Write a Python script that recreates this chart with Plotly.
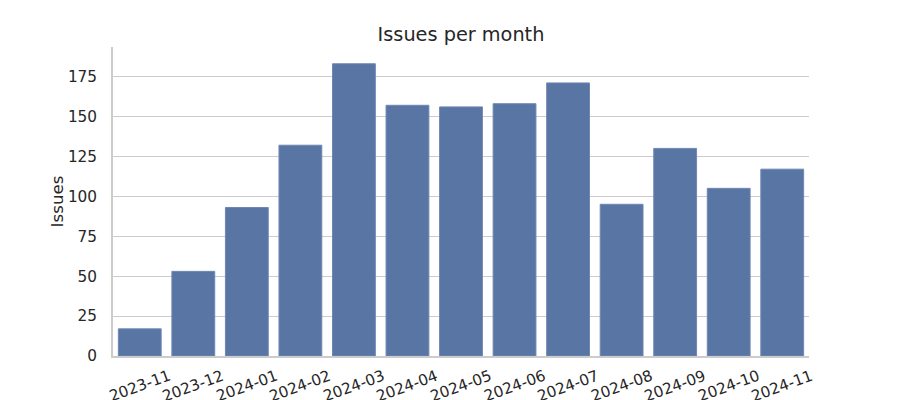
import plotly.graph_objects as go

months = ["2023-11", "2023-12", "2024-01", "2024-02", "2024-03", "2024-04", "2024-05",
          "2024-06", "2024-07", "2024-08", "2024-09", "2024-10", "2024-11"]
issues = [17, 53, 93, 132, 183, 157, 156, 158, 171, 95, 130, 105, 117]
y_ticks = [0, 25, 50, 75, 100, 125, 150, 175]

FONT = "DejaVu Sans"
TXT = "#262626"
TICK_SIZE = 15.3

fig = go.Figure(go.Bar(
    x=months, y=issues,
    marker=dict(color="#5875a4", line=dict(color="#6f88b3", width=1)),
))

# rotated category labels, centred under each bar (matplotlib style)
for m in months:
    fig.add_annotation(
        x=m, y=0, xref="x", yref="y", text=m, showarrow=False,
        textangle=-20, xanchor="center", yanchor="middle", yshift=-30,
        font=dict(family=FONT, size=TICK_SIZE, color=TXT),
    )

fig.update_layout(
    width=900, height=400,
    margin=dict(l=113, r=91, t=47, b=44, autoexpand=False),
    paper_bgcolor="white", plot_bgcolor="white",
    bargap=0.2,
    showlegend=False,
    font=dict(family=FONT, color=TXT, size=TICK_SIZE),
    title=dict(text="Issues per month", x=0.5, xref="paper", xanchor="center",
               y=1 - 34 / 400, yref="container", yanchor="middle",
               font=dict(family=FONT, size=19.3, color=TXT)),
)
fig.update_xaxes(
    type="category", range=[-0.5, 12.5], automargin=False,
    showline=True, linecolor="#cccccc", linewidth=1.7,
    showgrid=False, ticks="", showticklabels=False,
)
fig.update_yaxes(
    range=[0, 193.5], tickvals=y_ticks, automargin=False,
    showline=True, linecolor="#cccccc", linewidth=1.7,
    showgrid=True, gridcolor="#cccccc", gridwidth=1.1,
    zeroline=False, ticks="", ticklabelstandoff=11,
    title=dict(text="Issues", font=dict(family=FONT, size=16.7, color=TXT), standoff=0),
    tickfont=dict(family=FONT, size=TICK_SIZE, color=TXT),
)
fig.write_html("out.html")
